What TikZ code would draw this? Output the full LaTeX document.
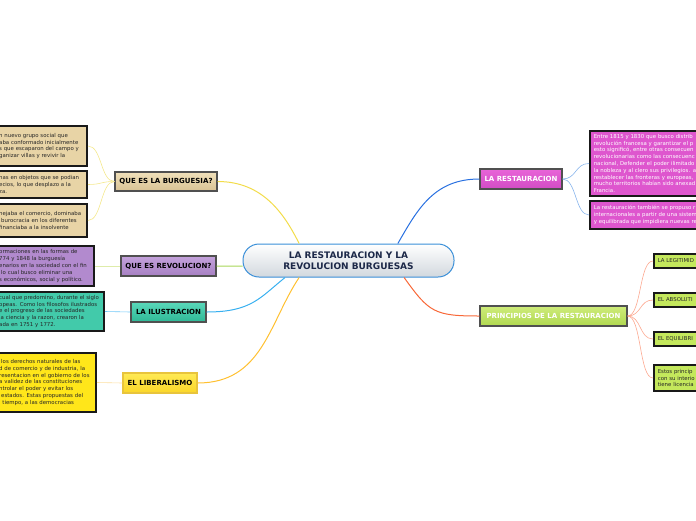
\documentclass[tikz,border=0pt]{standalone}
\usepackage{fontspec}
\setmainfont{DejaVu Sans}
\usepackage{tikz}
\usetikzlibrary{positioning}
\definecolor{hubblue}{RGB}{58,143,216}
\definecolor{hubgray}{RGB}{210,216,222}
\definecolor{navy}{RGB}{28,40,72}
\definecolor{edgegray}{RGB}{80,80,80}
\definecolor{tanfill}{RGB}{232,212,166}
\definecolor{tantop}{RGB}{240,224,186}
\definecolor{tanbot}{RGB}{216,194,148}
\definecolor{lilac}{RGB}{178,138,206}
\definecolor{lilactop}{RGB}{196,162,220}
\definecolor{lilacbot}{RGB}{166,128,194}
\definecolor{teal}{RGB}{66,202,170}
\definecolor{tealtop}{RGB}{90,216,186}
\definecolor{tealbot}{RGB}{46,184,150}
\definecolor{sun}{RGB}{255,230,26}
\definecolor{suntop}{RGB}{255,234,84}
\definecolor{sunbot}{RGB}{250,214,40}
\definecolor{sunedge}{RGB}{232,196,60}
\definecolor{pink}{RGB}{222,86,206}
\definecolor{pinktop}{RGB}{232,100,216}
\definecolor{pinkbot}{RGB}{210,76,196}
\definecolor{lime}{RGB}{196,232,92}
\definecolor{limetop}{RGB}{206,236,122}
\definecolor{limebot}{RGB}{176,216,80}
\definecolor{lnyellow}{RGB}{242,220,74}
\definecolor{lngreen}{RGB}{168,214,88}
\definecolor{lnsky}{RGB}{56,176,240}
\definecolor{lnorange}{RGB}{255,192,48}
\definecolor{lnblue}{RGB}{40,112,224}
\definecolor{lnred}{RGB}{248,104,56}
\definecolor{twyellow}{RGB}{244,232,140}
\definecolor{twgreen}{RGB}{222,236,170}
\definecolor{twsky}{RGB}{112,200,248}
\definecolor{tworange}{RGB}{252,222,160}
\definecolor{twblue}{RGB}{136,180,236}
\definecolor{twred}{RGB}{252,168,144}
\tikzset{
  hub/.style={draw=hubblue,line width=1pt,rounded corners=16pt,top color=white,bottom color=hubgray,
    minimum width=211pt,minimum height=33pt,align=center,text=navy,font=\fontsize{9}{11.5}\selectfont\bfseries},
  topic/.style={draw=edgegray,line width=1.2pt,minimum height=19pt,inner sep=1pt,
    font=\fontsize{7}{8}\selectfont\bfseries,text=black},
  note/.style={draw=black!90,line width=1.6pt,inner xsep=4pt,inner ysep=1pt,align=left,text=black!85,
    font=\fontsize{5.4}{6.8}\selectfont},
  leaf/.style={note,anchor=west,text width=60pt,minimum height=14pt,font=\fontsize{5.4}{6.6}\selectfont},
  link/.style={line width=1pt},
  twig/.style={line width=0.6pt}
}
\begin{document}
\begin{tikzpicture}[x=1pt,y=-1pt]
  \useasboundingbox (0,0) rectangle (696,520);
  \clip (0,0) rectangle (696,520);
  % centre
  \node[hub] (hub) at (348.5,260.5) {LA RESTAURACION Y LA\\REVOLUCION BURGUESAS};
  % left branches
  \node[topic,top color=tantop,bottom color=tanbot,minimum width=102pt] (burg) at (166,181.5) {QUE ES LA BURGUESIA?};
  \node[topic,top color=lilactop,bottom color=lilacbot,minimum width=95pt,minimum height=20pt] (revol) at (168.5,266) {QUE ES REVOLUCION?};
  \node[topic,top color=tealtop,bottom color=tealbot,minimum width=75pt,minimum height=20pt] (ilus) at (168.5,312) {LA ILUSTRACION};
  \node[topic,draw=sunedge,top color=suntop,bottom color=sunbot,minimum width=74pt,minimum height=20pt] (liber) at (160,383) {EL LIBERALISMO};
  \node[note,fill=tanfill,anchor=east,text width=84pt,minimum height=40pt] (b1) at (88,146)
    {n nuevo grupo social que\\aba conformado inicialmente\\s que escaparon del campo y\\ganizar villas y revivir la};
  \node[note,fill=tanfill,anchor=east,text width=84pt,minimum height=27pt] (b2) at (88,184.5)
    {nas en objetos que se podian\\ecios, lo que desplazo a la\\za.};
  \node[note,fill=tanfill,anchor=east,text width=84pt,minimum height=33pt] (b3) at (88,220.5)
    {nejaba el comercio, dominaba\\\hspace*{2pt}burocracia en los diferentes\\financiaba a la insolvente};
  \node[note,fill=lilac,anchor=east,text width=91pt,minimum height=40pt] (r1) at (95,266)
    {ormaciones en las formas de\\774 y 1848 la burguesía\\enarios en la sociedad con el fin\\\hspace*{2pt}lo cual busco eliminar una\\s económicos, social y político.};
  \node[note,fill=teal,anchor=east,text width=101pt,minimum height=39pt] (i1) at (105,311.5)
    {cual que predomino, durante el siglo\\opeas. Como los filosofos ilustrados\\e el progreso de las sociedades\\la ciencia y la razon, crearon la\\ada en 1751 y 1772.};
  \node[note,fill=sun,anchor=east,text width=93pt,minimum height=59pt] (l1) at (97,382.5)
    {\hspace*{2pt}los derechos naturales de las\\d de comercio y de industria, la\\resentacion en el gobierno de los\\a validez de las constituciones\\ntrolar el poder y evitar los\\\hspace*{2pt}estados. Estas propuestas del\\l tiempo, a las democracias};
  % right branches
  \node[topic,top color=pinktop,bottom color=pinkbot,text=white,minimum width=82pt,minimum height=20pt] (restau) at (521,179) {LA RESTAURACION};
  \node[topic,top color=limetop,bottom color=limebot,text=white,minimum width=147pt,minimum height=20pt] (princ) at (553.5,316) {PRINCIPIOS DE LA RESTAURACION};
  \node[note,fill=pink,text=white,anchor=west,text width=140pt,minimum height=65pt] (rb1) at (589,163.5)
    {Entre 1815 y 1830 que busco distrib\\revolución francesa y garantizar el p\\esto significó, entre otras consecuen\\revolucionarias como las consecuenc\\nacional, Defender el poder ilimitado\\la nobleza y al clero sus privilegios. a\\restablecer las fronteras y europeas,\\mucho territorios habían sido anexad\\Francia.};
  \node[note,fill=pink,text=white,anchor=west,text width=140pt,minimum height=28pt] (rb2) at (589,215)
    {La restauración también se propuso r\\internacionales a partir de una sistem\\y equilibrada que impidiera nuevas re};
  \foreach \i/\y/\lab in {1/261/LA LEGITIMID,2/300/EL ABSOLUTI,3/339/EL EQUILIBRI}{
    \node[leaf,fill=lime] (p\i) at (653,\y) {\lab};
  }
  \node[leaf,fill=lime,minimum height=26pt] (p4) at (653,378) {Estos princip\\con su interio\\tiene licencia};
  % connectors
  \draw[link,lnyellow] (burg.east) .. controls +(45,0) and +(-15,-30) .. (hub.161);
  \draw[link,lngreen] (revol.east) -- (hub.183);
  \draw[link,lnsky] (ilus.east) .. controls +(45,0) and +(-25,20) .. (hub.195);
  \draw[link,lnorange] (liber.east) .. controls +(65,0) and +(-30,45) .. (hub.199);
  \draw[link,lnblue] (hub.19) .. controls +(20,-35) and +(-45,0) .. (restau.west);
  \draw[link,lnred] (hub.343) .. controls +(25,35) and +(-45,0) .. (princ.west);
  \foreach \n in {b1,b2,b3}
    \draw[twig,twyellow] (burg.west) .. controls +(-14,0) and +(14,0) .. (\n.east);
  \draw[twig,twgreen] (revol.west) -- (r1.east);
  \draw[twig,twsky] (ilus.west) -- (i1.east);
  \draw[twig,tworange] (liber.west) -- (l1.east);
  \foreach \n in {rb1,rb2}
    \draw[twig,twblue] (restau.east) .. controls +(14,0) and +(-14,0) .. (\n.west);
  \foreach \i in {1,...,4}
    \draw[twig,twred] (princ.east) .. controls +(14,0) and +(-14,0) .. (p\i.west);
\end{tikzpicture}
\end{document}
